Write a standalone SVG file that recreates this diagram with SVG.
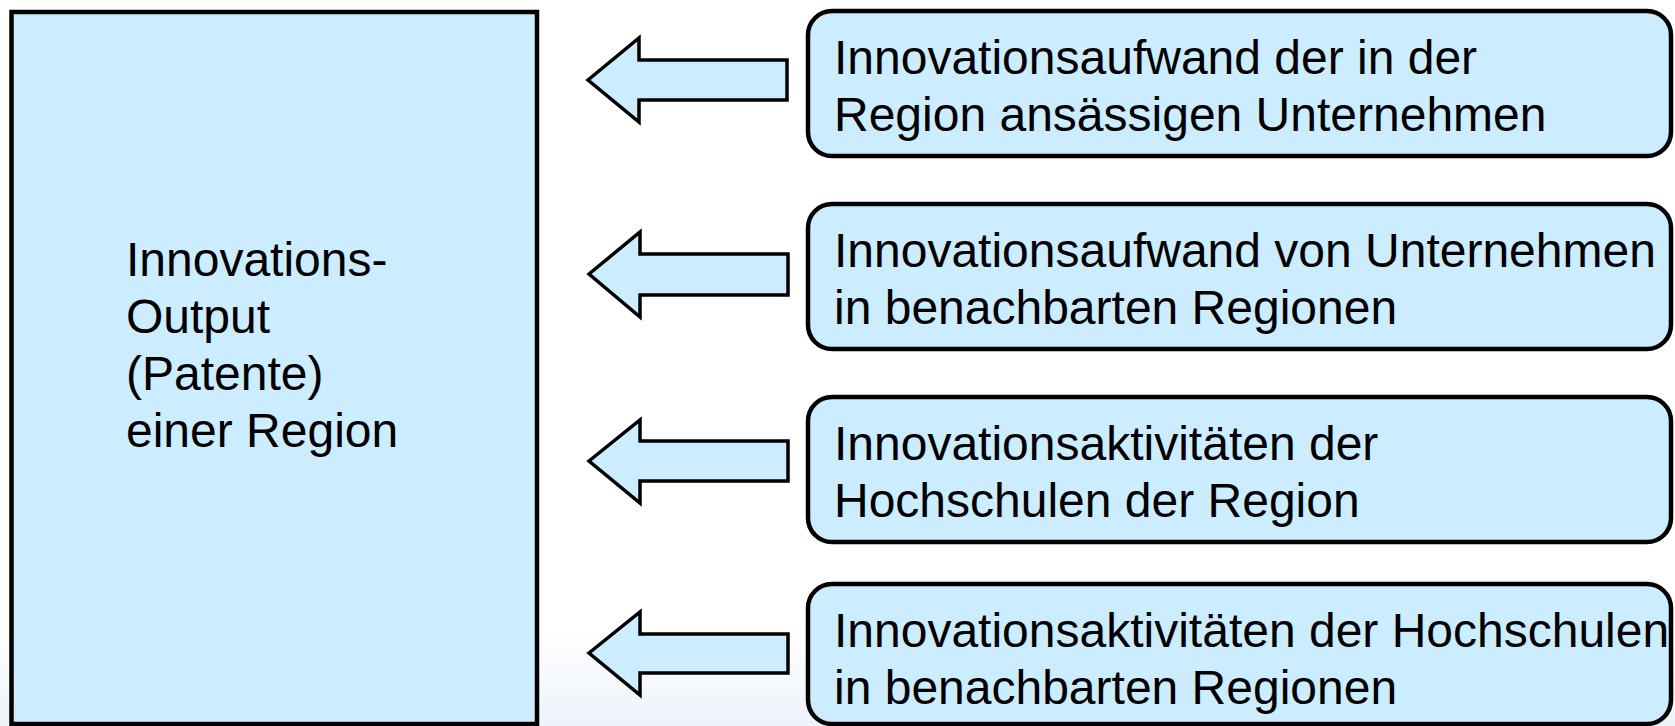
<svg xmlns="http://www.w3.org/2000/svg" width="1675" height="726" viewBox="0 0 1675 726">
  <defs>
    <linearGradient id="bg" x1="0" y1="0" x2="0" y2="1">
      <stop offset="0" stop-color="#ffffff"/>
      <stop offset="0.86" stop-color="#ffffff"/>
      <stop offset="1" stop-color="#eef3fa"/>
    </linearGradient>
    <style>
      .box { fill: #ccecff; stroke: #000000; stroke-width: 4.5; }
      .arrow { fill: #ccecff; stroke: #000000; stroke-width: 3.5; stroke-linejoin: miter; }
      .t { font-family: "Liberation Sans", Arial, sans-serif; font-size: 48px; fill: #000000; }
    </style>
  </defs>
  <rect x="0" y="0" width="1675" height="726" fill="url(#bg)"/>

  <g id="output">
    <rect class="box" x="11.5" y="12" width="525.5" height="712"/>
    <text class="t" x="126"><tspan x="126" y="276">Innovations-</tspan><tspan x="126" y="333">Output</tspan><tspan x="126" y="390">(Patente)</tspan><tspan x="126" y="447">einer Region</tspan></text>
  </g>

  <g id="connectors">
    <path class="arrow" d="M588,80 L639,38 L639,60 L787,60 L787,100 L639,100 L639,122 Z"/>
    <path class="arrow" d="M589,274 L640,232 L640,254 L788,254 L788,295 L640,295 L640,317 Z"/>
    <path class="arrow" d="M589,461 L640,420 L640,441 L788,441 L788,481 L640,481 L640,503 Z"/>
    <path class="arrow" d="M589,653 L640,612 L640,634 L788,634 L788,673 L640,673 L640,695 Z"/>
  </g>

  <g id="input1">
    <rect class="box" x="808" y="11" width="863" height="145" rx="24"/>
    <text class="t"><tspan x="834" y="74">Innovationsaufwand der in der</tspan><tspan x="834" y="131">Region ansässigen Unternehmen</tspan></text>
  </g>
  <g id="input2">
    <rect class="box" x="808" y="204" width="863" height="145" rx="24"/>
    <text class="t"><tspan x="834" y="267">Innovationsaufwand von Unternehmen</tspan><tspan x="834" y="324">in benachbarten Regionen</tspan></text>
  </g>
  <g id="input3">
    <rect class="box" x="808" y="397" width="863" height="145" rx="24"/>
    <text class="t"><tspan x="834" y="460">Innovationsaktivitäten der</tspan><tspan x="834" y="517">Hochschulen der Region</tspan></text>
  </g>
  <g id="input4">
    <rect class="box" x="808" y="584" width="863" height="140" rx="24"/>
    <text class="t"><tspan x="834" y="647">Innovationsaktivitäten der Hochschulen</tspan><tspan x="834" y="704">in benachbarten Regionen</tspan></text>
  </g>
</svg>
